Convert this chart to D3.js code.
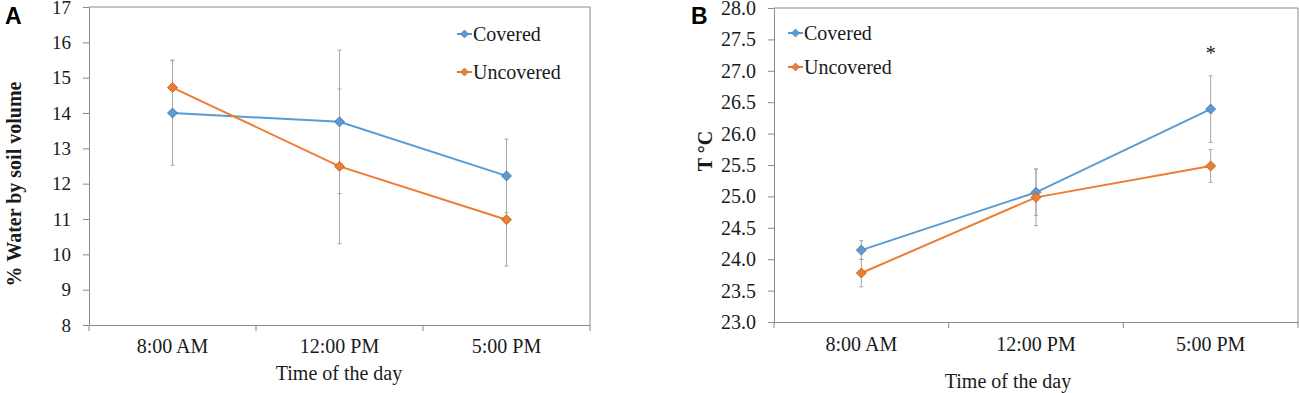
<!DOCTYPE html>
<html>
<head>
<meta charset="utf-8">
<script src="https://cdn.jsdelivr.net/npm/d3@7"></script>
<style>
  body { margin: 0; background: #fff; }
  svg { display: block; }
  text { font-family: "Liberation Serif", "Times New Roman", serif; fill: #1a1a1a; }
</style>
</head>
<body>
<script>
const width = 1299;
const height = 393;

// categories and series
const categories = ["8:00 AM", "12:00 PM", "5:00 PM"];
const seriesNames = ["Covered", "Uncovered"];

// panel A: % water by soil volume
const waterCovered = [14.0, 13.75, 12.22];
const waterCoveredErr = [1.48, 2.03, 1.04];
const waterUncovered = [14.72, 12.49, 10.98];
const waterUncoveredErr = [0.78, 2.19, 1.31];
const waterTicks = [8, 9, 10, 11, 12, 13, 14, 15, 16, 17];

// panel B: temperature
const tempCovered = [24.145, 25.065, 26.39];
const tempCoveredErr = [0.15, 0.37, 0.53];
const tempUncovered = [23.78, 24.985, 25.485];
const tempUncoveredErr = [0.22, 0.45, 0.26];
const tempTicks = [23.0, 23.5, 24.0, 24.5, 25.0, 25.5, 26.0, 26.5, 27.0, 27.5, 28.0];
const tempStars = ["", "", "*"];  // significance marks over covered series

const colors = ["#5B9BD5", "#ED7D31"];
const strokes = ["#41719C", "#AE5A21"];
const axisColor = "#8a8a8a";
const errColor = "#a6a6a6";
const serif = "'Liberation Serif', 'Times New Roman', serif";

const svg = d3.select("body").append("svg")
    .attr("width", width)
    .attr("height", height);

function diamond(r) {
    return `M0,${-r}L${r},0L0,${r}L${-r},0Z`;
}

function drawPanel(opt) {
    const g = svg.append("g");
    const x = d3.scaleBand().domain(categories).range([opt.left, opt.right]).padding(0);
    const y = d3.scaleLinear().domain(opt.domain).range([opt.bottom, opt.top]);

    // plot frame (top + right)
    g.append("path")
        .attr("d", `M${opt.left},${opt.top}H${opt.right}V${opt.bottom}`)
        .attr("fill", "none")
        .attr("stroke", axisColor)
        .attr("stroke-width", 1);

    // y axis
    const yAxis = g.append("g")
        .attr("transform", `translate(${opt.left},0)`)
        .call(d3.axisLeft(y).tickValues(opt.ticks).tickFormat(opt.fmt)
            .tickSize(6).tickSizeOuter(0).tickPadding(12));
    yAxis.select(".domain").attr("stroke", axisColor);
    yAxis.selectAll(".tick line").attr("stroke", axisColor);
    yAxis.selectAll(".tick text")
        .style("font-family", serif)
        .style("font-size", opt.tickFont + "px")
        .attr("fill", "#1a1a1a");

    // x axis: labels centred in bands, ticks on band boundaries
    const xAxis = g.append("g")
        .attr("transform", `translate(0,${opt.bottom})`)
        .call(d3.axisBottom(x).tickSize(0).tickPadding(opt.catPad));
    xAxis.select(".domain").attr("stroke", axisColor);
    xAxis.selectAll(".tick text")
        .style("font-family", serif)
        .style("font-size", "20px")
        .attr("fill", "#1a1a1a");
    const bounds = categories.map(c => x(c)).concat([x.range()[1]]);
    xAxis.selectAll(".bound")
        .data(bounds)
        .enter().append("line")
        .attr("x1", d => d).attr("x2", d => d)
        .attr("y1", 0).attr("y2", 6)
        .attr("stroke", axisColor);

    const series = opt.series.map((s, i) => ({
        name: seriesNames[i],
        color: colors[i],
        stroke: strokes[i],
        points: categories.map((c, j) => ({ cat: c, v: s.values[j], e: s.err[j] }))
    }));

    const cx = c => x(c) + x.bandwidth() / 2;

    // error bars
    series.forEach(s => {
        const eb = g.append("g");
        eb.selectAll("line.v").data(s.points).enter().append("line")
            .attr("x1", d => cx(d.cat)).attr("x2", d => cx(d.cat))
            .attr("y1", d => y(d.v + d.e)).attr("y2", d => y(d.v - d.e))
            .attr("stroke", errColor).attr("stroke-width", 1);
        [1, -1].forEach(sign => {
            eb.selectAll("line.c" + sign).data(s.points).enter().append("line")
                .attr("x1", d => cx(d.cat) - 2).attr("x2", d => cx(d.cat) + 2)
                .attr("y1", d => y(d.v + sign * d.e)).attr("y2", d => y(d.v + sign * d.e))
                .attr("stroke", errColor).attr("stroke-width", 1);
        });
    });

    // lines and markers
    const line = d3.line().x(d => cx(d.cat)).y(d => y(d.v));
    series.forEach(s => {
        g.append("path")
            .datum(s.points)
            .attr("d", line)
            .attr("fill", "none")
            .attr("stroke", s.color)
            .attr("stroke-width", 2);
        g.selectAll(null).data(s.points).enter().append("path")
            .attr("d", diamond(5))
            .attr("transform", d => `translate(${cx(d.cat)},${y(d.v)})`)
            .attr("fill", s.color)
            .attr("stroke", s.stroke)
            .attr("stroke-width", 0.8);
    });

    // significance marks
    if (opt.stars) {
        const top = series[0].points;
        g.selectAll(null).data(opt.stars).enter().append("text")
            .attr("x", (d, i) => cx(categories[i]))
            .attr("y", (d, i) => y(top[i].v + top[i].e) - 16)
            .attr("text-anchor", "middle")
            .style("font-size", "20px")
            .text(d => d);
    }

    // legend
    series.forEach((s, i) => {
        const lg = g.append("g")
            .attr("transform", `translate(${opt.legendX},${opt.legendY + i * opt.legendGap})`);
        lg.append("line").attr("x1", 0).attr("x2", 15).attr("stroke", s.color).attr("stroke-width", 2);
        lg.append("path").attr("d", diamond(4)).attr("transform", "translate(7.5,0)")
            .attr("fill", s.color).attr("stroke", s.stroke).attr("stroke-width", 0.6);
        lg.append("text").attr("x", 16).attr("y", 7).style("font-size", "20px").text(s.name);
    });

    // axis titles
    g.append("text")
        .attr("x", opt.xTitleX).attr("y", opt.xTitleY)
        .attr("text-anchor", "middle")
        .style("font-size", "20px")
        .text("Time of the day");
    g.append("text")
        .attr("transform", `translate(${opt.yTitleX},${opt.yTitleY}) rotate(-90)`)
        .attr("text-anchor", "middle")
        .style("font-size", "20px")
        .style("font-weight", "bold")
        .text(opt.yTitle);

    // panel letter
    g.append("text")
        .attr("x", opt.letterX).attr("y", 24)
        .style("font-family", "'Liberation Sans', Arial, sans-serif")
        .style("font-size", "23px")
        .style("font-weight", "bold")
        .style("fill", "#000")
        .text(opt.letter);
}

drawPanel({
    letter: "A", letterX: 5,
    left: 89, right: 590, top: 7, bottom: 325,
    domain: [8, 17], ticks: waterTicks, fmt: d3.format("d"), tickFont: 19,
    catPad: 14,
    series: [
        { values: waterCovered, err: waterCoveredErr },
        { values: waterUncovered, err: waterUncoveredErr }
    ],
    legendX: 457, legendY: 34, legendGap: 38,
    xTitleX: 339, xTitleY: 380,
    yTitle: "% Water by soil volume", yTitleX: 21, yTitleY: 184
});

drawPanel({
    letter: "B", letterX: 691,
    left: 774, right: 1298, top: 8, bottom: 322,
    domain: [23, 28], ticks: tempTicks, fmt: d3.format(".1f"), tickFont: 20,
    catPad: 15,
    series: [
        { values: tempCovered, err: tempCoveredErr },
        { values: tempUncovered, err: tempUncoveredErr }
    ],
    stars: tempStars,
    legendX: 788, legendY: 33, legendGap: 34,
    xTitleX: 1008, xTitleY: 388,
    yTitle: "T °C", yTitleX: 712, yTitleY: 151
});
</script>
</body>
</html>
